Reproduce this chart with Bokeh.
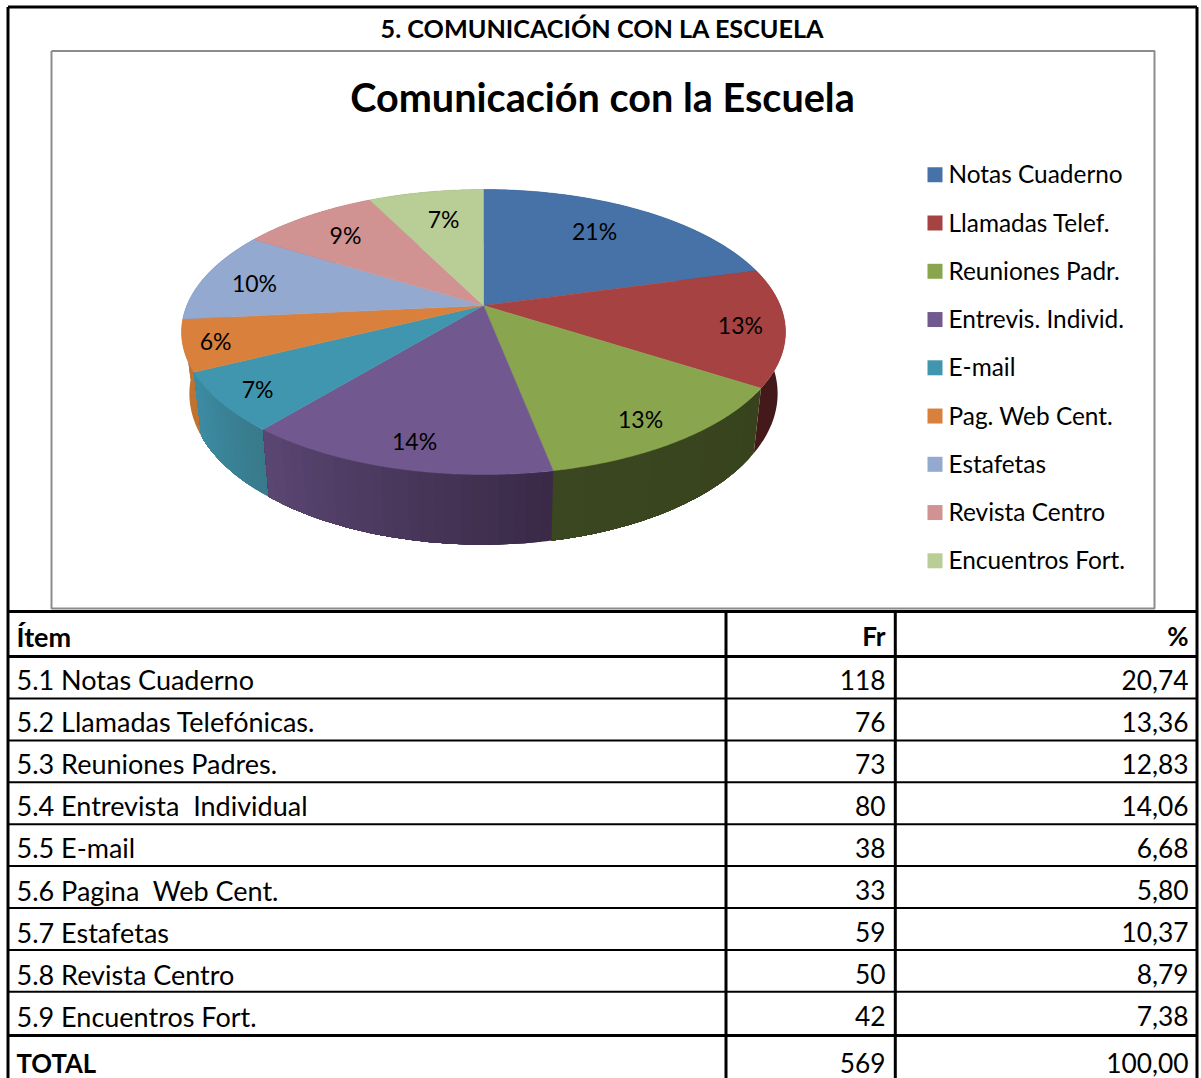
import numpy as np
from bokeh.embed import file_html
from bokeh.models import Range1d
from bokeh.plotting import figure
from bokeh.resources import INLINE

# ---------- data ----------
section_title = "5. COMUNICACIÓN CON LA ESCUELA"
chart_title = "Comunicación con la Escuela"
legend_labels = ["Notas Cuaderno", "Llamadas Telef.", "Reuniones Padr.", "Entrevis. Individ.", "E-mail",
                 "Pag. Web Cent.", "Estafetas", "Revista Centro", "Encuentros Fort."]
item_labels = ["5.1 Notas Cuaderno", "5.2 Llamadas Telefónicas.", "5.3 Reuniones Padres.",
               "5.4 Entrevista \u00a0Individual", "5.5 E-mail", "5.6 Pagina \u00a0Web Cent.", "5.7 Estafetas",
               "5.8 Revista Centro", "5.9 Encuentros Fort."]
fr_values = [118, 76, 73, 80, 38, 33, 59, 50, 42]
pct_values = [20.74, 13.36, 12.83, 14.06, 6.68, 5.80, 10.37, 8.79, 7.38]
header_labels = ["Ítem", "Fr", "%"]
total_label = "TOTAL"
total_fr = "569"
total_pct = "100,00"

# ---------- styles ----------
top_colors = ["#4672a8", "#a64342", "#89a54e", "#71588f", "#4096ae", "#d9813c", "#93a9cf", "#d19392", "#b9cd96"]
side_start = ["#2b4568", "#431a19", "#38431d", "#3a2a47", "#387a8b", "#c0722f", "#5c6a82", "#836060", "#75805f"]
side_end = ["#2b4568", "#431a19", "#3a4720", "#5a4672", "#3d8ca4", "#c0722f", "#5c6a82", "#836060", "#75805f"]
label_reach = [0.72, 0.855, 0.856, 0.863, 0.88, 0.897, 0.81, 0.754, 0.714]
label_turn_deg = [-2.1, 1.3, 1.8, -1.1, -0.7, -0.6, -1.9, -0.5, 1.0]
FONT = "Lato"


def rgb(h):
    return np.array([int(h[i:i + 2], 16) for i in (1, 3, 5)], dtype=float)


def hexa(c):
    return "#%02x%02x%02x" % tuple(int(round(v)) for v in c)


# ---------- page-pixel canvas ----------
W, H = 1201, 1078
p = figure(width=W, height=H, x_range=Range1d(0, W), y_range=Range1d(H, 0), output_backend="svg",
           toolbar_location=None, min_border=0, outline_line_color=None, margin=(0, 0, 0, 0))
p.axis.visible = False
p.grid.visible = False
p.background_fill_color = "white"
p.border_fill_color = "white"

# ---------- perspective pie ----------
CX, CY, A, B, K = 483.0, 305.0, 296.7, 137.6, 0.186


def top_xy(theta, reach=1.0):
    s, c = reach * np.sin(theta), reach * np.cos(theta)
    d = 1 + K * c
    return CX + A * s / d, CY - B * c / d


def bottom_xy(theta):
    x, y = top_xy(theta)
    return CX + 0.974 * (x - CX), y + 60 + 0.06 * (y - CY)


values = np.array(fr_values, dtype=float)
edges = np.concatenate([[0], np.cumsum(values)]) / values.sum() * 2 * np.pi
mid = (edges[:-1] + edges[1:]) / 2

# each side wall is painted as nested bands, back slices first, so there are no seams
side_xs, side_ys, side_cols = [], [], []
for i in np.argsort(-np.cos(mid)):
    ts = np.linspace(edges[i], edges[i + 1], 60)
    tx, ty = top_xy(ts)
    bx, by = bottom_xy(ts)
    steps = 1 if side_start[i] == side_end[i] else 24
    c0, c1 = rgb(side_start[i]), rgb(side_end[i])
    for s in range(steps):
        j = int(round(s / steps * (len(ts) - 1)))
        side_xs.append(np.concatenate([tx[j:], bx[j:][::-1]]).tolist())
        side_ys.append(np.concatenate([ty[j:], by[j:][::-1]]).tolist())
        side_cols.append(hexa(c0 + (c1 - c0) * s / max(1, steps - 1)))
p.patches(side_xs, side_ys, fill_color=side_cols, line_color=None)

xs_top, ys_top = [], []
for i in range(len(values)):
    ts = np.linspace(edges[i], edges[i + 1], 80)
    x, y = top_xy(ts)
    xs_top.append(np.concatenate([[CX], x]).tolist())
    ys_top.append(np.concatenate([[CY], y]).tolist())
p.patches(xs_top, ys_top, fill_color=top_colors, line_color=top_colors, line_width=0.5)

lx, ly = top_xy(mid + np.radians(label_turn_deg), np.array(label_reach))
p.text(lx.tolist(), (ly - 1.5).tolist(), text=[f"{round(v)}%" for v in pct_values], text_font={"value": FONT},
       text_font_size="23px", text_align="center", text_baseline="middle", text_color="black")

# ---------- chart frame, outer frame ----------
p.line([51, 1154, 1154, 51, 51], [50.5, 50.5, 608, 608, 50.5], line_color="#8c8c8c", line_width=2)
p.line([7.5, 7.5], [H, 6.5], line_color="black", line_width=3)
p.line([7.5, 1196.5], [6.5, 6.5], line_color="black", line_width=3)
p.line([1196.5, 1196.5], [6.5, H], line_color="black", line_width=3)

p.text([602], [27], text=[section_title], text_font={"value": FONT}, text_font_style="bold", text_font_size="25.2px",
       text_align="center", text_baseline="middle", text_color="black")
p.text([602], [96], text=[chart_title], text_font={"value": FONT}, text_font_style="bold", text_font_size="39.6px",
       text_align="center", text_baseline="middle", text_color="black")

# ---------- legend ----------
n = len(legend_labels)
leg_y = [174.3 + 48.25 * i for i in range(n)]
p.quad(left=[927] * n, right=[942] * n, top=[y - 7.5 for y in leg_y], bottom=[y + 7.5 for y in leg_y],
       fill_color=top_colors, line_color=None)
p.text([948] * n, [y - 1 for y in leg_y], text=legend_labels, text_font={"value": FONT}, text_font_size="24.4px",
       text_baseline="middle", text_color="black")

# ---------- table ----------
row_lines = [698 + 41.9 * i for i in range(8)]
for y, w in [(611, 3), (656, 3)] + [(y, 2) for y in row_lines] + [(1035, 3)]:
    p.line([7.5, 1196.5], [y, y], line_color="black", line_width=w)
for x in (725.5, 894.8):
    p.line([x, x], [611, H], line_color="black", line_width=3)

row_y = [679 + 42.1 * i for i in range(9)]
hdr_y, tot_y = 635.5, 1062
p.text([16], [hdr_y], text=[header_labels[0]], text_font={"value": FONT}, text_font_style="bold",
       text_font_size="27px", text_baseline="middle", text_color="black")
p.text([885, 1188], [hdr_y] * 2, text=header_labels[1:], text_font={"value": FONT}, text_font_style="bold",
       text_font_size="26px", text_align="right", text_baseline="middle", text_color="black")
p.text([16] * n, row_y, text=item_labels, text_font={"value": FONT}, text_font_size="27px",
       text_baseline="middle", text_color="black")
p.text([885] * n, row_y, text=[str(v) for v in fr_values], text_font={"value": FONT}, text_font_size="26.3px",
       text_align="right", text_baseline="middle", text_color="black")
p.text([1188] * n, row_y, text=[f"{v:.2f}".replace(".", ",") for v in pct_values], text_font={"value": FONT},
       text_font_size="26.3px", text_align="right", text_baseline="middle", text_color="black")
p.text([16], [tot_y], text=[total_label], text_font={"value": FONT}, text_font_style="bold", text_font_size="25.7px",
       text_baseline="middle", text_color="black")
p.text([885, 1188], [tot_y] * 2, text=[total_fr, total_pct], text_font={"value": FONT}, text_font_size="26.3px",
       text_align="right", text_baseline="middle", text_color="black")

open("out.html", "w").write(file_html(p, INLINE))
